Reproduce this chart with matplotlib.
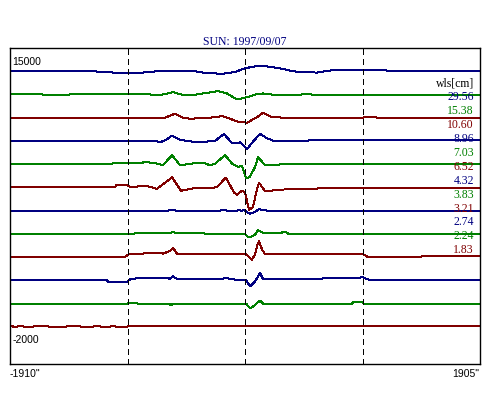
import numpy as np
import matplotlib
matplotlib.use("Agg")
import matplotlib.pyplot as plt

''' scan data: position [arcsec] and deviation from each scan's baseline '''
title = "SUN: 1997/09/07"
x_left, x_right = -1910, 1905
y_bottom, y_top = -2000, 15000
step = 1250  # vertical spacing between scans

wavelengths = ["29.56", "15.38", "10.60", "8.96", "7.03", "6.52",
               "4.32", "3.83", "3.21", "2.74", "2.24", "1.83"]
colors = ["#000080", "#008000", "#800000"]

s1_x = [-1910, -1220, -1180, -1074, -830, -774, -408, -327, -189, -84, -2, 119, 257, 363, 444, 582, 687, 769, 1134, 1158, 1905]
s1_y = [0, 0, -43, -70, -70, -16, 0, -86, -140, -43, 162, 308, 184, 38, -54, -70, 38, 54, 54, 22, 22]

s2_x = [-1910, -1650, -1626, -1447, -1423, -774, -692, -587, -514, -408, -327, -222, -149, -67, 14, 95, 144, 257, 444, 501, 566, 1905]
s2_y = [0, 0, -54, -54, 0, 0, -38, 124, -11, -11, 70, 178, 54, -270, -146, 32, 54, -38, -11, 43, -38, -22]

s3_x = [-1910, -1074, -1050, -855, -814, -652, -571, -506, -449, -287, -189, -124, -67, 14, 95, 144, 217, 322, 947, 963, 1061, 1085, 1905]
s3_y = [0, 0, -38, -38, 0, 0, 216, 0, -54, 0, 86, -54, -200, -270, 32, 270, 32, 0, 0, 16, 16, -38, -38]

s4_x = [-1910, -960, -952, -733, -692, -644, -595, -530, -392, -246, -173, -108, -67, -43, 14, 63, 119, 176, 225, 322, 525, 769, 1905]
s4_y = [0, 0, 16, 16, -70, 54, 286, 54, -70, 0, 378, -124, -124, -70, -432, -38, 378, 146, 16, -27, 27, 38, 38]

s5_x = [-1910, -1204, -1074, -855, -814, -733, -668, -595, -530, -425, -327, -287, -246, -165, -108, -59, -27, 6, 38, 79, 103, 160, 282, 1905]
s5_y = [0, 0, 38, 38, 124, 54, -54, 486, -54, 38, 38, -54, 27, 486, 38, -146, -81, -770, -680, -146, 378, -54, -16, -16]

s6_x = [-1910, -1545, -1529, -1261, -1244, -1058, -1050, -960, -936, -798, -717, -595, -522, -425, -287, -230, -157, -92, -67, -27, -2, 30, 63, 87, 111, 160, 282, 606, 955, 1905]
s6_y = [0, 0, 32, 32, 0, 0, 108, 108, 32, 70, -76, 540, -184, -54, -54, 27, 529, -281, -389, -173, -254, -1220, -1042, -308, 259, -211, -119, -54, -22, -22]

s7_x = [-1910, -628, -595, -563, -205, -181, -149, -67, -51, -35, -10, 14, 38, 79, 111, 144, 200, 1905]
s7_y = [0, 0, 54, 0, 0, 54, 0, 0, 38, -16, 27, -92, -162, -70, 92, 16, 0, 0]

s8_x = [-1910, -960, -611, -587, -563, -287, -2, 14, 38, 79, 103, 144, 282, 322, 347, 1905]
s8_y = [0, 16, 43, 97, 43, 16, 16, -130, -184, -38, 194, 70, 43, 124, 16, 0]

s9_x = [-1910, -977, -952, -912, -774, -668, -611, -587, -554, -368, -2, 22, 54, 79, 95, 111, 136, 160, 850, 874, 947, 996, 1418, 1434, 1905]
s9_y = [0, 0, 140, 178, 205, 194, 324, 502, 178, 151, 178, 54, -130, 140, 594, 853, 410, 151, 151, 194, 194, 0, 0, 43, 43]

s10_x = [-1910, -1123, -1115, -977, -960, -936, -879, -749, -611, -587, -554, -189, -165, -108, -59, 6, 38, 79, 119, 144, 622, 631, 915, 947, 980, 1012, 1905]
s10_y = [0, 0, -65, -65, -92, 54, 113, 124, 97, 221, 70, 70, 124, 70, 0, 0, -324, -54, 394, 70, 70, 124, 124, 178, 97, 0, 0]

s11_x = [-1910, -960, -936, -887, -871, -628, -603, -579, 6, 38, 63, 119, 144, 866, 874, 947, 963, 1905]
s11_y = [0, 0, 54, 54, 0, 0, -76, 0, 0, -254, -162, 162, 0, 0, 70, 70, 0, 0]

s12_x = [-1910, -1894, -1878, -1813, -1796, -1634, -1610, -1593, -1366, -1342, -1326, -1180, -1163, -1058, -1042, -960, -952, -855, -847, -774,
         -611, -595, -368, -352, -246, -2, 38, 119, 363, 444, 687, 728, 1093, 1418, 1458, 1580, 1621, 1905]
s12_y = [0, 38, 0, 38, 0, 38, 38, 0, 27, 27, 0, 27, 0, 27, 0, 0, 54, 54, 38, 54,
         38, 54, 54, 38, 54, 54, 38, 54, 38, 54, 38, 54, 54, 38, 54, 38, 54, 38]

scans_x = [s1_x, s2_x, s3_x, s4_x, s5_x, s6_x, s7_x, s8_x, s9_x, s10_x, s11_x, s12_x]
scans_y = [s1_y, s2_y, s3_y, s4_y, s5_y, s6_y, s7_y, s8_y, s9_y, s10_y, s11_y, s12_y]

''' figure '''
plt.rcParams['lines.scale_dashes'] = False
fig = plt.figure(figsize=(5, 4), dpi=100)
ax = fig.add_axes([0.02, 0.09, 0.94, 0.79])

n = len(scans_x)
for i in range(n):
    offset = (n - 1 - i) * step
    ax.plot(scans_x[i], np.array(scans_y[i]) + offset, color=colors[i % 3],
            lw=0.72, antialiased=False)

# dashed markers at quarters of the scan
for xv in np.linspace(x_left, x_right, 5)[1:4]:
    ax.axvline(xv, color='black', lw=0.72, linestyle=(0, (3.6, 2.9)), antialiased=False)

ax.set_xlim(x_left, x_right)
ax.set_ylim(y_bottom, y_top)
ax.set_xticks([])
ax.set_yticks([])
for sp in ax.spines.values():
    sp.set_linewidth(1.0)

serif = ['Liberation Serif', 'DejaVu Serif']
sans = ['Liberation Sans', 'DejaVu Sans']

# title and corner labels
fig.text(0.49, 0.8875, title, ha='center', va='baseline', color='#000080', family=serif, fontsize=8.5)
ax.text(0.005, 0.955, "%d" % y_top, transform=ax.transAxes, ha='left', va='center', family=sans, fontsize=7.5)
ax.text(0.005, 0.075, "%d" % y_bottom, transform=ax.transAxes, ha='left', va='center', family=sans, fontsize=7.5)
fig.text(0.02, 0.065, '%d"' % x_left, ha='left', va='center', family=sans, fontsize=7.5)
fig.text(0.958, 0.065, '%d"' % x_right, ha='right', va='center', family=sans, fontsize=7.5)

# wavelength legend
ax.text(0.987, (364 - 83) / 316, "wls[cm]", transform=ax.transAxes, ha='right', va='center',
        family=serif, fontsize=8.5)
for i, w in enumerate(wavelengths):
    ax.text(0.987, (364 - 97.3 - 13.9 * i) / 316, w, transform=ax.transAxes, ha='right', va='center',
            color=colors[i % 3], family=serif, fontsize=8.5)

fig.savefig("out.png", dpi=100)
